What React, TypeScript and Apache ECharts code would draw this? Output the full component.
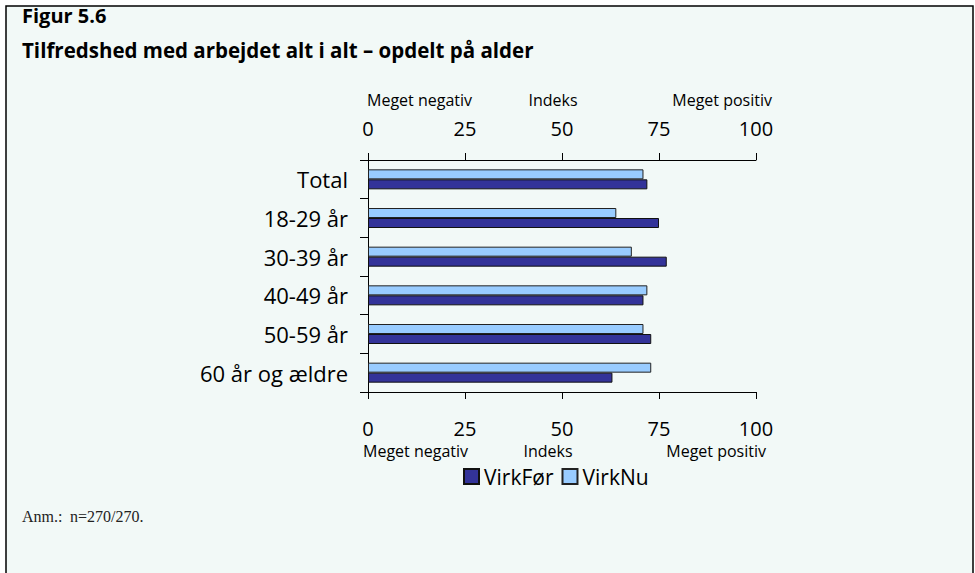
import React, { useEffect, useRef } from "react";
import * as echarts from "echarts";

const categories = ["Total", "18-29 år", "30-39 år", "40-49 år", "50-59 år", "60 år og ældre"];
const virkFoer = [72, 75, 77, 71, 73, 63];
const virkNu = [71, 64, 68, 72, 71, 73];
const xTicks = [0, 25, 50, 75, 100];
const scaleCaptions = ["Meget negativ", "Indeks", "Meget positiv"];
const titleLine1 = "Figur 5.6";
const titleLine2 = "Tilfredshed med arbejdet alt i alt – opdelt på alder";
const footnoteLabel = "Anm.:";
const footnoteText = "n=270/270.";

const FONT = "'Open Sans', sans-serif";

export default function App() {
  const ref = useRef<HTMLDivElement>(null);
  useEffect(() => {
    if (!ref.current) return;
    const chart = echarts.init(ref.current, undefined, { renderer: "svg" });
    const axisCommon = {
      type: "value" as const,
      min: xTicks[0],
      max: xTicks[xTicks.length - 1],
      interval: 25,
      axisLine: { show: true, lineStyle: { color: "#000", width: 1 } },
      axisTick: { show: true, length: 7, lineStyle: { color: "#000" } },
      splitLine: { show: false },
    };
    const capStyle = { fontFamily: FONT, fontSize: 16, fill: "#000" };
    const serif = { fontFamily: "'Liberation Serif', serif", fontSize: 16, fill: "#222", textVerticalAlign: "middle" as const };
    chart.setOption({
      animation: false,
      backgroundColor: "#ffffff",
      graphic: [
        {
          type: "rect",
          shape: { x: 6, y: 6, width: 967, height: 600 },
          style: { fill: "#f2f9f7", stroke: "#000", lineWidth: 1.5 },
          z: -10,
        },
        { type: "text", left: 22, top: 5, style: { text: titleLine1, font: `bold 20px ${FONT}`, fill: "#000" } },
        { type: "text", left: 22, top: 39, style: { text: titleLine2, font: `bold 20.5px ${FONT}`, fill: "#000" } },
        { type: "text", x: 367, y: 100, style: { ...capStyle, text: scaleCaptions[0], textAlign: "left", textVerticalAlign: "middle" } },
        { type: "text", x: 553, y: 100, style: { ...capStyle, text: scaleCaptions[1], textAlign: "center", textVerticalAlign: "middle" } },
        { type: "text", x: 772, y: 100, style: { ...capStyle, text: scaleCaptions[2], textAlign: "right", textVerticalAlign: "middle" } },
        { type: "text", x: 363, y: 451, style: { ...capStyle, text: scaleCaptions[0], textAlign: "left", textVerticalAlign: "middle" } },
        { type: "text", x: 548, y: 451, style: { ...capStyle, text: scaleCaptions[1], textAlign: "center", textVerticalAlign: "middle" } },
        { type: "text", x: 766, y: 451, style: { ...capStyle, text: scaleCaptions[2], textAlign: "right", textVerticalAlign: "middle" } },
        { type: "text", x: 22, y: 516, style: { ...serif, text: footnoteLabel } },
        { type: "text", x: 70, y: 516, style: { ...serif, text: footnoteText } },
      ],
      legend: {
        data: ["VirkFør", "VirkNu"],
        left: 458,
        top: 461,
        itemWidth: 15,
        itemHeight: 15,
        itemGap: 8,
        icon: "rect",
        textStyle: { fontFamily: FONT, fontSize: 21, color: "#000", padding: [0, 0, 0, 0] },
      },
      grid: { left: 368, right: 219, top: 160, bottom: 181, containLabel: false },
      xAxis: [
        { ...axisCommon, position: "top", axisLabel: { fontFamily: FONT, fontSize: 20, color: "#000", margin: 22 } },
        { ...axisCommon, position: "bottom", axisLabel: { fontFamily: FONT, fontSize: 20, color: "#000", margin: 26 } },
      ],
      yAxis: {
        type: "category",
        data: categories,
        inverse: true,
        axisLine: { show: true, lineStyle: { color: "#000" } },
        axisTick: { show: true, length: 8, lineStyle: { color: "#000" } },
        axisLabel: { fontFamily: FONT, fontSize: 22, color: "#000", margin: 20 },
      },
      series: [
        {
          name: "VirkNu",
          type: "bar",
          data: virkNu,
          barWidth: 10,
          barGap: "0%",
          itemStyle: { color: "#99ccff", borderColor: "#222", borderWidth: 1 },
        },
        {
          name: "VirkFør",
          type: "bar",
          data: virkFoer,
          barWidth: 10,
          barGap: "0%",
          itemStyle: { color: "#333399", borderColor: "#111", borderWidth: 1 },
        },
      ],
    });
    return () => chart.dispose();
  }, []);
  return <div ref={ref} style={{ position: "fixed", left: 0, top: 0, width: 975, height: 573 }} />;
}
